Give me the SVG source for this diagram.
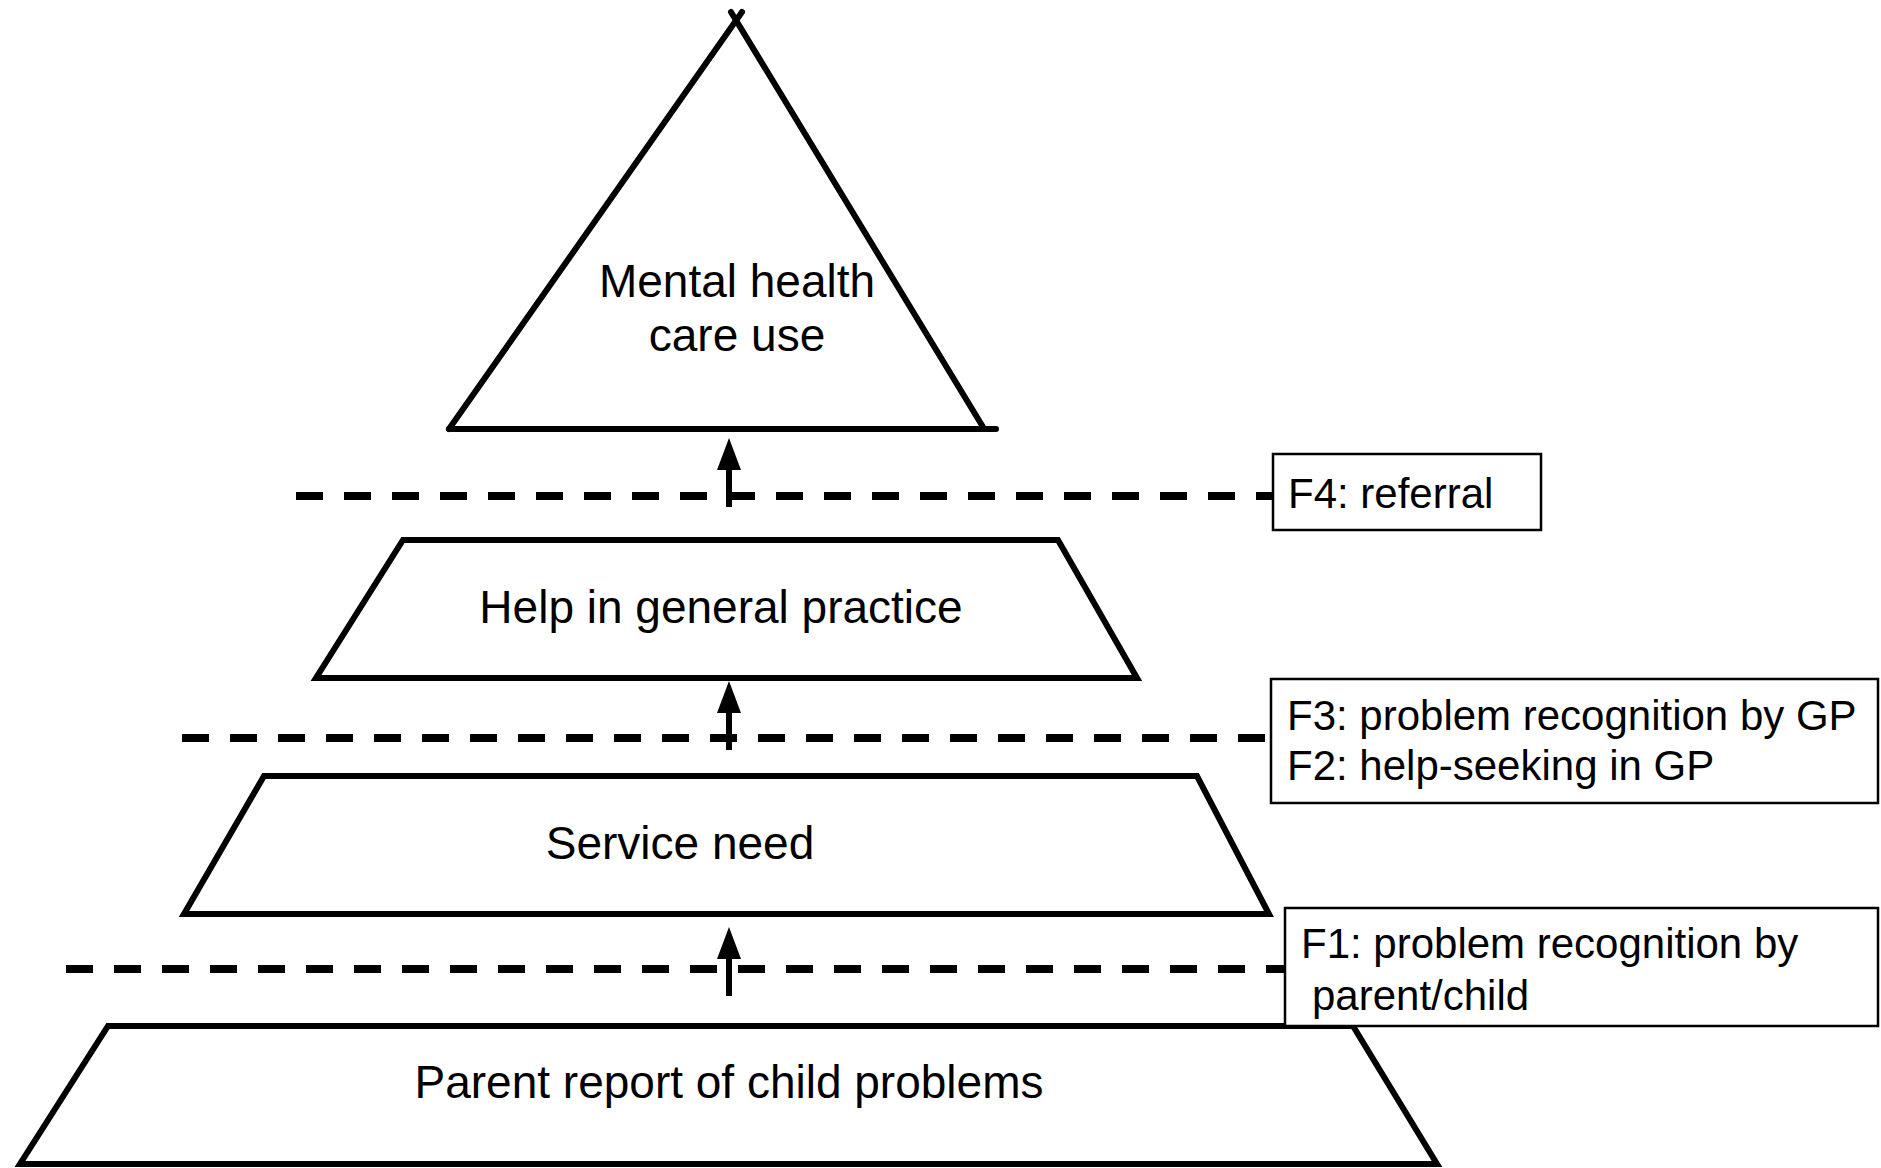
<svg xmlns="http://www.w3.org/2000/svg" width="1881" height="1168" viewBox="0 0 1881 1168">
  <style>
    .shape { fill: #ffffff; stroke: #000000; stroke-width: 6; stroke-linejoin: miter; }
    .edge { fill: none; stroke: #000000; stroke-width: 6; stroke-linecap: round; }
    .main { font-family: "Liberation Sans", Arial, sans-serif; font-size: 46px; fill: #000000; text-anchor: middle; }
    .lbl { font-family: "Liberation Sans", Arial, sans-serif; font-size: 42px; fill: #000000; }
    .box { fill: #ffffff; stroke: #000000; stroke-width: 2.5; }
    .dash { fill: none; stroke: #000000; stroke-width: 8; stroke-dasharray: 27 21; }
    .shaft { fill: none; stroke: #000000; stroke-width: 6; }
  </style>
  <defs>
    <marker id="head" markerWidth="32" markerHeight="24" refX="0" refY="0" viewBox="0 -12 32 24" markerUnits="userSpaceOnUse" orient="auto">
      <path d="M 32 0 L 0 -12 L 0 12 Z" fill="#000000"/>
    </marker>
  </defs>
  <rect width="1881" height="1168" fill="#ffffff"/>

  <g id="connectors">
    <line class="dash" x1="296" y1="496" x2="1272" y2="496"/>
    <line class="dash" x1="182" y1="738" x2="1271" y2="738"/>
    <line class="dash" x1="66" y1="969" x2="1284" y2="969"/>
    <line class="shaft" x1="729" y1="507" x2="729" y2="470" marker-end="url(#head)"/>
    <line class="shaft" x1="729" y1="750" x2="729" y2="713" marker-end="url(#head)"/>
    <line class="shaft" x1="729" y1="996" x2="729" y2="959" marker-end="url(#head)"/>
  </g>

  <g id="node-mental-health">
    <path d="M 449 429 L 742 12" class="edge"/>
    <path d="M 983 427 L 731 12" class="edge"/>
    <path d="M 449 429 L 996 429" class="edge"/>
    <text class="main" x="737" y="297">Mental health</text>
    <text class="main" x="737" y="351">care use</text>
  </g>

  <g id="node-help-gp">
    <polygon class="shape" points="403,540 1058,540 1137,678 316,678"/>
    <text class="main" x="721" y="623">Help in general practice</text>
  </g>

  <g id="node-service-need">
    <polygon class="shape" points="264,776 1197,776 1269,914 184,914"/>
    <text class="main" x="680" y="859">Service need</text>
  </g>

  <g id="node-parent-report">
    <polygon class="shape" points="108,1026 1353,1026 1437,1164 20,1164"/>
    <text class="main" x="729" y="1098">Parent report of child problems</text>
  </g>

  <g id="label-f4">
    <rect class="box" x="1273" y="454" width="268" height="76"/>
    <text class="lbl" x="1288" y="508">F4: referral</text>
  </g>

  <g id="label-f3-f2">
    <rect class="box" x="1271" y="679" width="607" height="124"/>
    <text class="lbl" x="1287" y="730">F3: problem recognition by GP</text>
    <text class="lbl" x="1287" y="780">F2: help-seeking in GP</text>
  </g>

  <g id="label-f1">
    <rect class="box" x="1285" y="908" width="593" height="118"/>
    <text class="lbl" x="1301" y="958">F1: problem recognition by</text>
    <text class="lbl" x="1312" y="1010">parent/child</text>
  </g>
</svg>
